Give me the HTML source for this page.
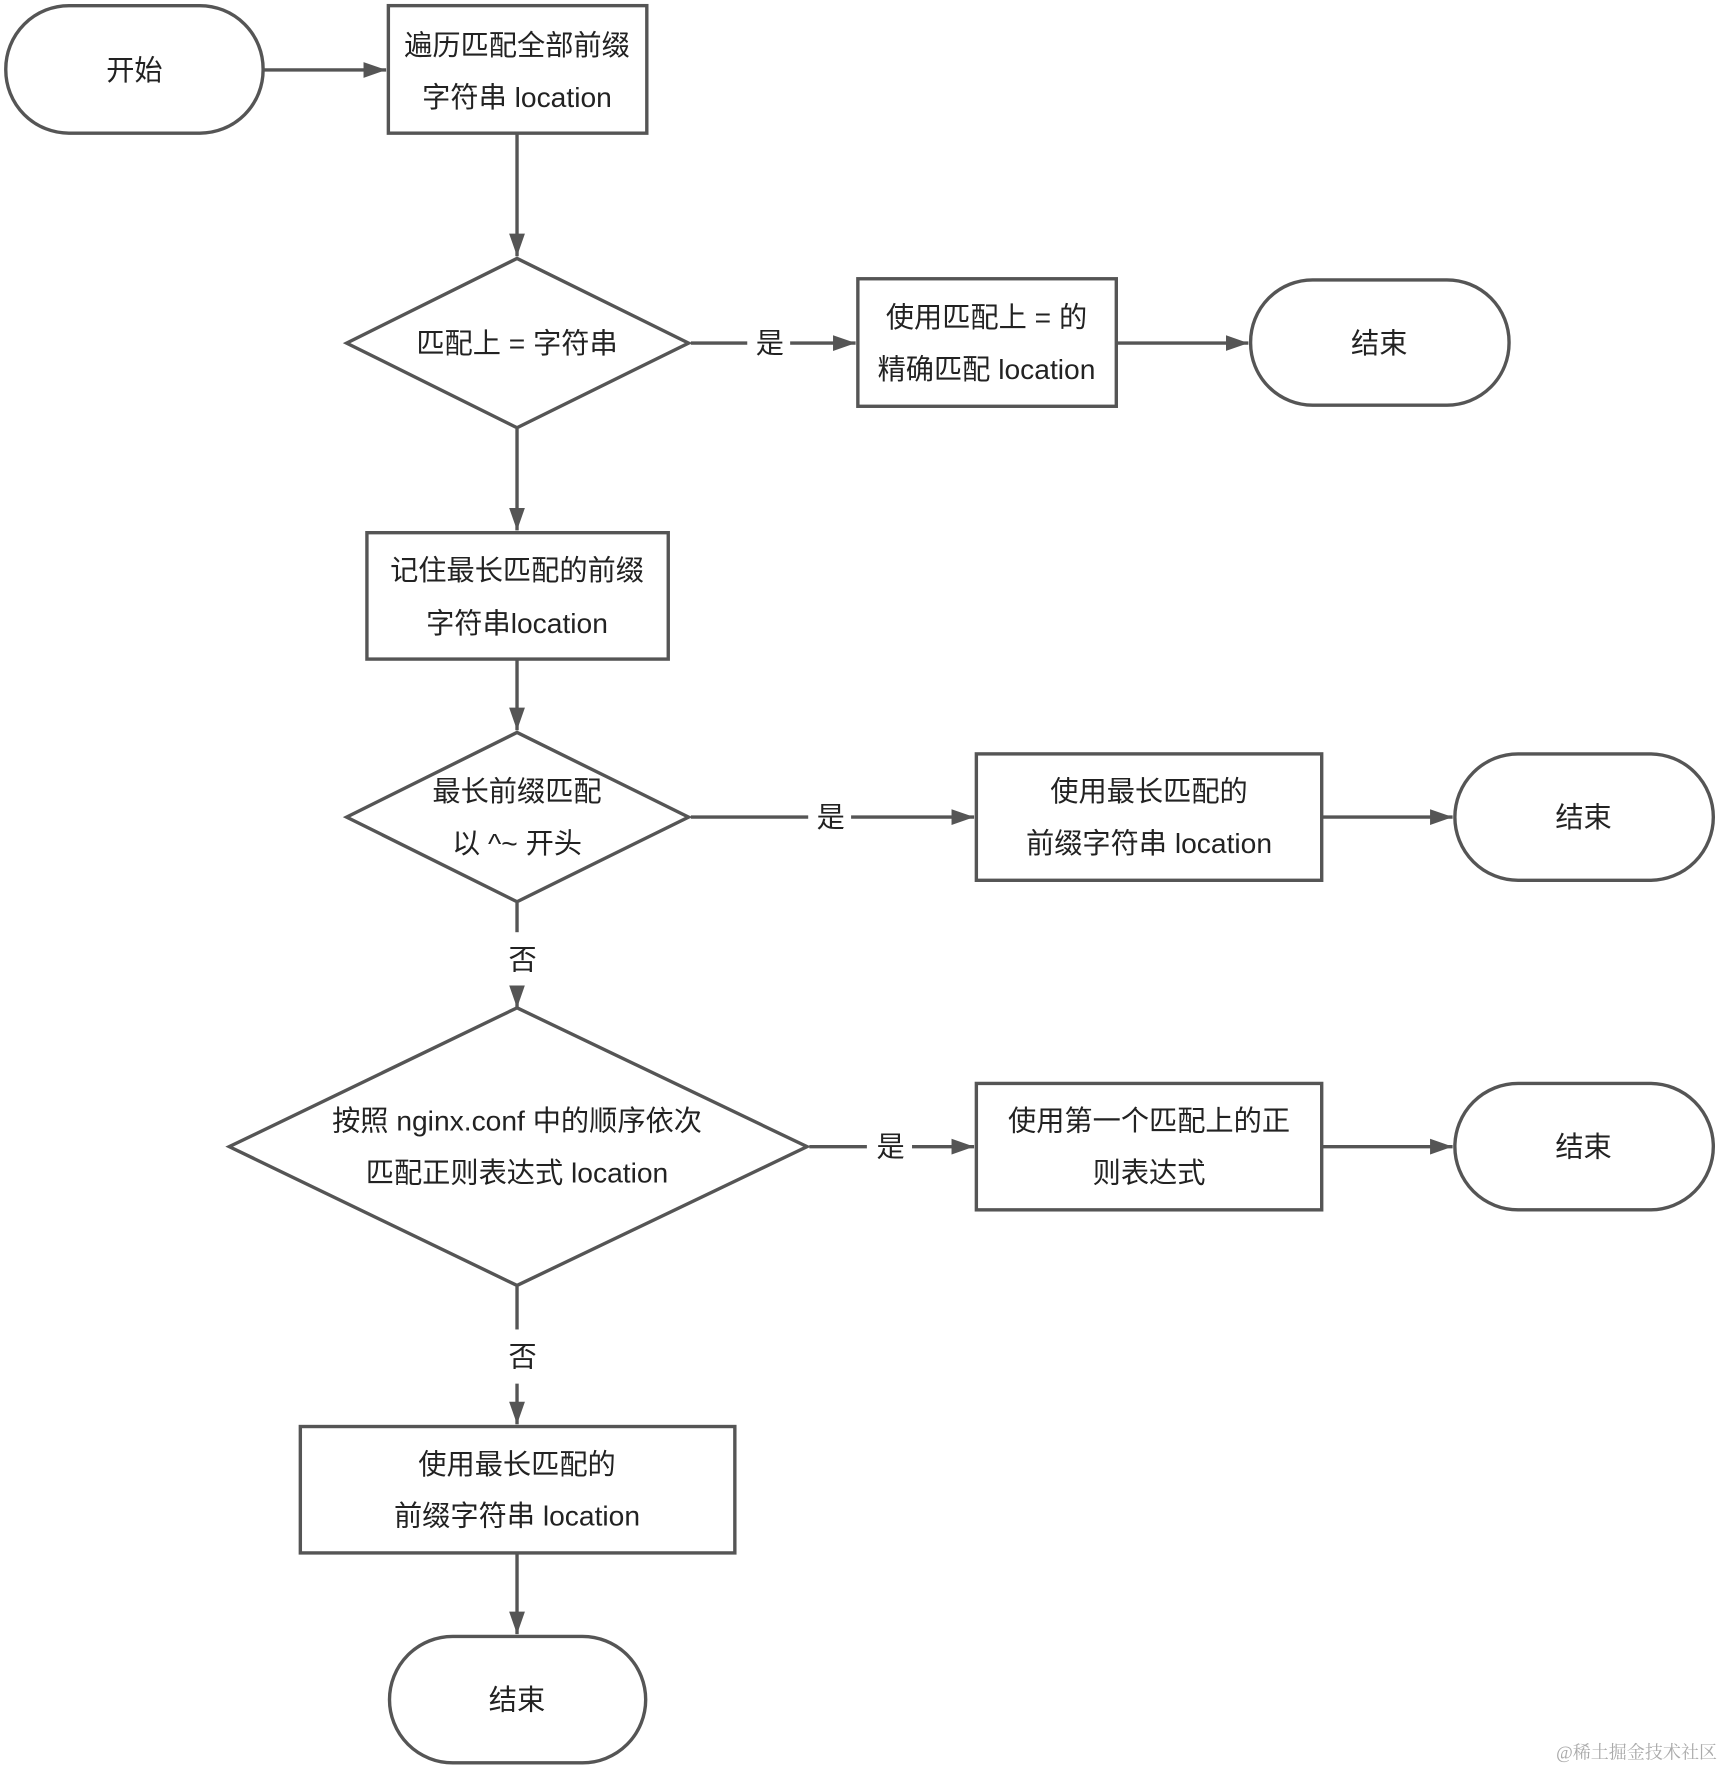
<!DOCTYPE html>
<html><head><meta charset="utf-8"><style>
html,body{margin:0;padding:0;background:#fff;}
svg{display:block;}
text{font-family:"Liberation Sans","Noto Sans CJK SC",sans-serif;font-size:25px;fill:#222;text-anchor:middle;dominant-baseline:central;}
.s{fill:none;stroke:#555;stroke-width:3;}
.w{fill:#fff;stroke:#555;stroke-width:3;}
</style></head><body>
<svg width="1727" height="1773" viewBox="0 0 1530 1571" xmlns="http://www.w3.org/2000/svg">
<defs><marker id="a" markerWidth="10" markerHeight="10" refX="9" refY="5" orient="auto" markerUnits="userSpaceOnUse"><path d="M0,0 L20,5 L0,10 Z" fill="#555" transform="scale(0.5,1)"/></marker>
<marker id="b" viewBox="0 0 20 14" markerWidth="20" markerHeight="14" refX="20" refY="7" orient="auto" markerUnits="userSpaceOnUse"><path d="M0,0 L20,7 L0,14 Z" fill="#555"/></marker></defs>

<!-- nodes -->
<rect class="w" x="5" y="5" width="228" height="113" rx="56"/><text x="119" y="62">开始</text>
<rect class="w" x="344" y="5" width="229" height="113"/><text x="458" y="40">遍历匹配全部前缀</text><text x="458" y="86">字符串 location</text>
<polygon class="w" points="458,229 610,304 458,379 307,304"/><text x="458" y="304">匹配上 = 字符串</text>
<rect class="w" x="760" y="247" width="229" height="113"/><text x="874" y="281">使用匹配上 = 的</text><text x="874" y="327">精确匹配 location</text>
<rect class="w" x="1108" y="248" width="229" height="111" rx="55"/><text x="1222" y="304">结束</text>
<rect class="w" x="325" y="472" width="267" height="112"/><text x="458" y="505">记住最长匹配的前缀</text><text x="458" y="552">字符串location</text>
<polygon class="w" points="458,649 610,724 458,799 307,724"/><text x="458" y="701">最长前缀匹配</text><text x="458" y="747">以 ^~ 开头</text>
<rect class="w" x="865" y="668" width="306" height="112"/><text x="1018" y="701">使用最长匹配的</text><text x="1018" y="747">前缀字符串 location</text>
<rect class="w" x="1289" y="668" width="229" height="112" rx="56"/><text x="1403" y="724">结束</text>
<polygon class="w" points="458,893 715,1016 458,1139 203,1016"/><text x="458" y="993">按照 nginx.conf 中的顺序依次</text><text x="458" y="1039">匹配正则表达式 location</text>
<rect class="w" x="865" y="960" width="306" height="112"/><text x="1018" y="993">使用第一个匹配上的正</text><text x="1018" y="1039">则表达式</text>
<rect class="w" x="1289" y="960" width="229" height="112" rx="56"/><text x="1403" y="1016">结束</text>
<rect class="w" x="266" y="1264" width="385" height="112"/><text x="458" y="1297">使用最长匹配的</text><text x="458" y="1343">前缀字符串 location</text>
<rect class="w" x="345" y="1450" width="227" height="112" rx="56"/><text x="458" y="1506">结束</text>

<!-- connectors -->
<line class="s" x1="234" y1="62" x2="342" y2="62" marker-end="url(#b)"/>
<line class="s" x1="458" y1="118" x2="458" y2="227" marker-end="url(#b)"/>
<line class="s" x1="612" y1="304" x2="662" y2="304"/>
<line class="s" x1="700" y1="304" x2="758" y2="304" marker-end="url(#b)"/>
<text x="682" y="304">是</text>
<line class="s" x1="990" y1="304" x2="1106" y2="304" marker-end="url(#b)"/>
<line class="s" x1="458" y1="380" x2="458" y2="470" marker-end="url(#b)"/>
<line class="s" x1="458" y1="585" x2="458" y2="647" marker-end="url(#b)"/>
<line class="s" x1="612" y1="724" x2="716" y2="724"/>
<line class="s" x1="754" y1="724" x2="863" y2="724" marker-end="url(#b)"/>
<text x="736" y="724">是</text>
<line class="s" x1="1172" y1="724" x2="1287" y2="724" marker-end="url(#b)"/>
<line class="s" x1="458" y1="800" x2="458" y2="826"/>
<line class="s" x1="458" y1="874" x2="458" y2="893" marker-end="url(#b)"/>
<text x="463" y="850">否</text>
<line class="s" x1="717" y1="1016" x2="768" y2="1016"/>
<line class="s" x1="808" y1="1016" x2="863" y2="1016" marker-end="url(#b)"/>
<text x="789" y="1016">是</text>
<line class="s" x1="1172" y1="1016" x2="1287" y2="1016" marker-end="url(#b)"/>
<line class="s" x1="458" y1="1140" x2="458" y2="1178"/>
<line class="s" x1="458" y1="1226" x2="458" y2="1262" marker-end="url(#b)"/>
<text x="463" y="1202">否</text>
<line class="s" x1="458" y1="1377" x2="458" y2="1448" marker-end="url(#b)"/>

<text x="1450" y="1553" style="font-size:16px;fill:#aaa;font-family:'Liberation Serif','Noto Serif CJK SC',serif">@稀土掘金技术社区</text>
</svg>
</body></html>
